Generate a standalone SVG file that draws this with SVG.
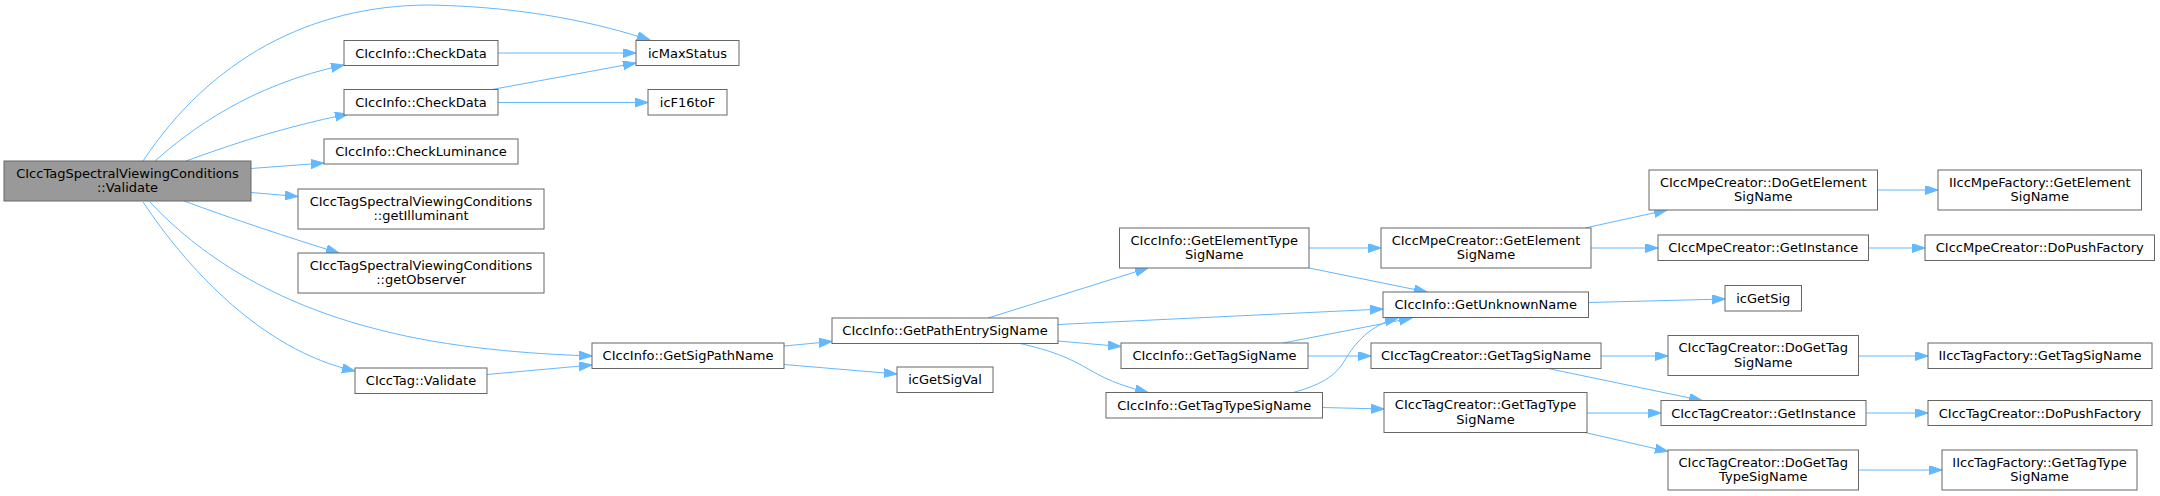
<svg xmlns="http://www.w3.org/2000/svg" width="2160" height="496" viewBox="0 0 2160 496">
<style>
.n rect{fill:#fff;stroke:#666;stroke-width:1}
.n.root rect{fill:#999}
.n text{font-family:"DejaVu Sans",sans-serif;font-size:13px;fill:#000;text-anchor:middle}
.e path{fill:none;stroke:#63b8ff;stroke-width:1;marker-end:url(#ah)}
</style>
<defs>
<marker id="ah" markerUnits="userSpaceOnUse" markerWidth="14" markerHeight="11" refX="13" refY="4.5" orient="auto">
<path d="M0,0 L13,4.5 L0,9 z" fill="#63b8ff" stroke="#63b8ff" stroke-width="1"/>
</marker>
</defs>
<rect width="2160" height="496" fill="#fff"/>
<g id="connectors" class="e">
<path d="M143,161 C210,60 310,5 430,5 C530,7 600,24 650,40"/>
<path d="M155,161 C190,130 250,85 344,65"/>
<path d="M186,161 C230,145 280,128 348,114"/>
<path d="M251,168.5 L324,163"/>
<path d="M251,192.5 L298,196.5"/>
<path d="M184,201 C230,218 290,238 339,253"/>
<path d="M150,202 C190,245 260,300 380,330 C450,348 530,354 592,356"/>
<path d="M143,202 C185,265 260,350 355,371"/>
<path d="M498,53 L636,53"/>
<path d="M492,89.5 L636,63"/>
<path d="M498,102.5 L648,102.5"/>
<path d="M487,374.5 L592,365"/>
<path d="M784,346 L832,341.5"/>
<path d="M784,364.5 L897,374"/>
<path d="M988,318 L1148,268"/>
<path d="M1058,324.5 L1383,309"/>
<path d="M1058,341 L1121,346.5"/>
<path d="M1020,343.5 C1050,350 1070,358 1090,370 C1110,382 1130,388 1148,392.5"/>
<path d="M1309,248 L1381,248"/>
<path d="M1309,268 L1427,292"/>
<path d="M1283,343 L1412,318"/>
<path d="M1293,392.5 C1320,385 1335,377 1345,360 C1355,343 1370,325 1398,318"/>
<path d="M1308,356 L1371,356"/>
<path d="M1322.5,407.5 L1384,409"/>
<path d="M1585,228 L1667,210"/>
<path d="M1591,248 L1658,248"/>
<path d="M1588.5,302.5 L1725,299"/>
<path d="M1601,356 L1668,356"/>
<path d="M1548,368.5 L1702,400.5"/>
<path d="M1587,413 L1661,413"/>
<path d="M1585,432.5 L1668,451.5"/>
<path d="M1877.5,190 L1938,190"/>
<path d="M1868.5,248 L1925,248"/>
<path d="M1858.5,356 L1928,356"/>
<path d="M1866,413 L1928,413"/>
<path d="M1858.5,470 L1942,470"/>
</g>
<g id="root" class="n root"><rect x="4" y="161" width="247" height="40"/><text x="127.5" y="177.5">CIccTagSpectralViewingConditions</text><text x="127.5" y="192">::Validate</text></g>
<g id="icMaxStatus" class="n"><rect x="636" y="40.5" width="103" height="25"/><text x="687.5" y="57.5">icMaxStatus</text></g>
<g id="checkData1" class="n"><rect x="344" y="40.5" width="154" height="25"/><text x="421" y="57.5">CIccInfo::CheckData</text></g>
<g id="checkData2" class="n"><rect x="344" y="89.5" width="154" height="25.5"/><text x="421" y="106.5">CIccInfo::CheckData</text></g>
<g id="icF16toF" class="n"><rect x="648" y="89.5" width="79" height="25.5"/><text x="687.5" y="106.5">icF16toF</text></g>
<g id="checkLuminance" class="n"><rect x="324" y="139" width="194" height="25"/><text x="421" y="156">CIccInfo::CheckLuminance</text></g>
<g id="getIlluminant" class="n"><rect x="298" y="189" width="246" height="40"/><text x="421" y="205.5">CIccTagSpectralViewingConditions</text><text x="421" y="220">::getIlluminant</text></g>
<g id="getObserver" class="n"><rect x="298" y="253" width="246" height="40"/><text x="421" y="269.5">CIccTagSpectralViewingConditions</text><text x="421" y="284">::getObserver</text></g>
<g id="tagValidate" class="n"><rect x="355" y="368" width="132" height="25.5"/><text x="421" y="385">CIccTag::Validate</text></g>
<g id="getSigPathName" class="n"><rect x="592" y="343" width="192" height="25.5"/><text x="688" y="360">CIccInfo::GetSigPathName</text></g>
<g id="getPathEntrySigName" class="n"><rect x="832" y="318" width="226" height="25.5"/><text x="945" y="335">CIccInfo::GetPathEntrySigName</text></g>
<g id="icGetSigVal" class="n"><rect x="897" y="367" width="96" height="25.5"/><text x="945" y="384">icGetSigVal</text></g>
<g id="getElementTypeSigName" class="n"><rect x="1119.5" y="228" width="189.5" height="40"/><text x="1214.25" y="244.5">CIccInfo::GetElementType</text><text x="1214.25" y="259">SigName</text></g>
<g id="getTagSigName" class="n"><rect x="1121" y="343" width="187" height="25.5"/><text x="1214.5" y="360">CIccInfo::GetTagSigName</text></g>
<g id="getTagTypeSigName" class="n"><rect x="1106" y="392.5" width="216.5" height="25.5"/><text x="1214.25" y="409.5">CIccInfo::GetTagTypeSigName</text></g>
<g id="mpeGetElementSigName" class="n"><rect x="1381" y="228" width="210" height="40"/><text x="1486" y="244.5">CIccMpeCreator::GetElement</text><text x="1486" y="259">SigName</text></g>
<g id="getUnknownName" class="n"><rect x="1383" y="292" width="205.5" height="25.5"/><text x="1485.75" y="309">CIccInfo::GetUnknownName</text></g>
<g id="tcGetTagSigName" class="n"><rect x="1371" y="343" width="230" height="25.5"/><text x="1486" y="360">CIccTagCreator::GetTagSigName</text></g>
<g id="tcGetTagTypeSigName" class="n"><rect x="1384" y="392.5" width="203" height="40"/><text x="1485.5" y="409">CIccTagCreator::GetTagType</text><text x="1485.5" y="423.5">SigName</text></g>
<g id="mpeDoGetElementSigName" class="n"><rect x="1649" y="170" width="228.5" height="40"/><text x="1763.25" y="186.5">CIccMpeCreator::DoGetElement</text><text x="1763.25" y="201">SigName</text></g>
<g id="mpeGetInstance" class="n"><rect x="1658" y="235" width="210.5" height="25.5"/><text x="1763.25" y="252">CIccMpeCreator::GetInstance</text></g>
<g id="icGetSig" class="n"><rect x="1725" y="285.5" width="76.5" height="25.5"/><text x="1763.25" y="302.5">icGetSig</text></g>
<g id="tcDoGetTagSigName" class="n"><rect x="1668" y="335.5" width="190.5" height="40"/><text x="1763.25" y="352">CIccTagCreator::DoGetTag</text><text x="1763.25" y="366.5">SigName</text></g>
<g id="tcGetInstance" class="n"><rect x="1661" y="400.5" width="205" height="25"/><text x="1763.5" y="417.5">CIccTagCreator::GetInstance</text></g>
<g id="tcDoGetTagTypeSigName" class="n"><rect x="1668" y="450" width="190.5" height="40"/><text x="1763.25" y="466.5">CIccTagCreator::DoGetTag</text><text x="1763.25" y="481">TypeSigName</text></g>
<g id="mpeFactoryGetElementSigName" class="n"><rect x="1938" y="170" width="203.5" height="40"/><text x="2039.75" y="186.5">IIccMpeFactory::GetElement</text><text x="2039.75" y="201">SigName</text></g>
<g id="mpeDoPushFactory" class="n"><rect x="1925" y="235" width="229.5" height="25.5"/><text x="2039.75" y="252">CIccMpeCreator::DoPushFactory</text></g>
<g id="tagFactoryGetTagSigName" class="n"><rect x="1928" y="343" width="224" height="25.5"/><text x="2040" y="360">IIccTagFactory::GetTagSigName</text></g>
<g id="tcDoPushFactory" class="n"><rect x="1928" y="400.5" width="224" height="25"/><text x="2040" y="417.5">CIccTagCreator::DoPushFactory</text></g>
<g id="tagFactoryGetTagTypeSigName" class="n"><rect x="1942" y="450" width="195" height="40"/><text x="2039.5" y="466.5">IIccTagFactory::GetTagType</text><text x="2039.5" y="481">SigName</text></g>
</svg>
